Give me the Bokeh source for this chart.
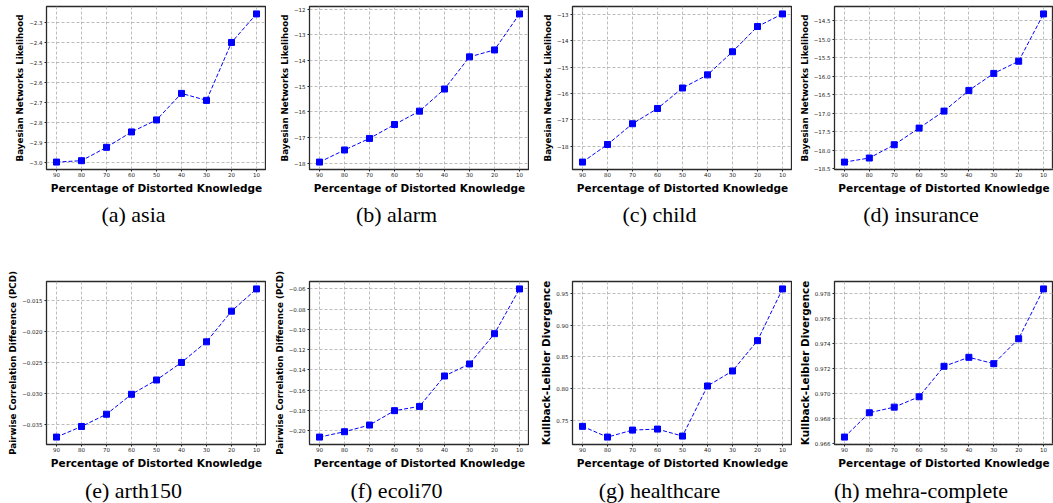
from bokeh.plotting import figure
from bokeh.layouts import row, column
from bokeh.models import Range1d, FixedTicker, CustomJSTickFormatter
from bokeh.core.properties import value
from bokeh.embed import file_html
from bokeh.resources import INLINE

# ---------------- data ----------------
pct_labels = ["90", "80", "70", "60", "50", "40", "30", "20", "10"]

asia = [-2.999, -2.992, -2.925, -2.848, -2.788, -2.655, -2.690, -2.400, -2.257]
alarm = [-17.95, -17.48, -17.03, -16.49, -15.97, -15.11, -13.86, -13.59, -12.19]
child = [-18.61, -17.94, -17.15, -16.57, -15.79, -15.29, -14.41, -13.45, -12.97]
insurance = [-18.32, -18.21, -17.85, -17.40, -16.94, -16.38, -15.92, -15.59, -14.31]
arth150 = [-0.03697, -0.03527, -0.03330, -0.03010, -0.02781, -0.02499, -0.02168, -0.01676, -0.01319]
ecoli70 = [-0.2063, -0.2010, -0.1944, -0.1802, -0.1760, -0.1460, -0.1341, -0.1042, -0.0600]
healthcare = [0.7400, 0.7230, 0.7341, 0.7357, 0.7246, 0.8040, 0.8278, 0.8759, 0.9579]
mehra = [0.96648, 0.96843, 0.96888, 0.96971, 0.97215, 0.97287, 0.97236, 0.97436, 0.97835]

asia_ticks = [-3.0, -2.9, -2.8, -2.7, -2.6, -2.5, -2.4, -2.3]
alarm_ticks = [-18, -17, -16, -15, -14, -13, -12]
child_ticks = [-18, -17, -16, -15, -14, -13]
insurance_ticks = [-18.5, -18.0, -17.5, -17.0, -16.5, -16.0, -15.5, -15.0, -14.5]
arth150_ticks = [-0.035, -0.030, -0.025, -0.020, -0.015]
ecoli70_ticks = [-0.20, -0.18, -0.16, -0.14, -0.12, -0.10, -0.08, -0.06]
healthcare_ticks = [0.75, 0.80, 0.85, 0.90, 0.95]
mehra_ticks = [0.966, 0.968, 0.970, 0.972, 0.974, 0.976, 0.978]

x_title = "Percentage of Distorted Knowledge"
bn_title = "Bayesian Networks Likelihood"
pcd_title = "Pairwise Correlation Difference (PCD)"
kl_title = "Kullback-Leibler Divergence"

captions = ["(a) asia", "(b) alarm", "(c) child", "(d) insurance",
            "(e) arth150", "(f) ecoli70", "(g) healthcare", "(h) mehra-complete"]

panels = [
    (asia, asia_ticks, 1, bn_title),
    (alarm, alarm_ticks, 0, bn_title),
    (child, child_ticks, 0, bn_title),
    (insurance, insurance_ticks, 1, bn_title),
    (arth150, arth150_ticks, 3, pcd_title),
    (ecoli70, ecoli70_ticks, 2, pcd_title),
    (healthcare, healthcare_ticks, 2, kl_title),
    (mehra, mehra_ticks, 3, kl_title),
]

# ---------------- layout ----------------
TOTAL_W = 1053
WIDTHS = [266, 263, 263, 261]
LEFTS = [46, 43, 43, 42]
TOPS = [6, 30]
FRAME_H = 163
PLOT_BOTTOM = 30
CAP_H = [52, 29]          # caption strip heights (rows total 251 / 252)
CAP_Y = [15, 16]          # caption centre, px from the top of the strip
CAP_SHIFT = -23           # caption centre relative to frame centre (px)

FONT = "DejaVu Sans"


def make_panel(k):
    vals, ticks, dec, ytitle = panels[k]
    r, c = divmod(k, 4)
    w, left = WIDTHS[c], LEFTS[c]
    top = TOPS[r]
    h = top + FRAME_H + PLOT_BOTTOM

    xs = list(range(len(pct_labels)))
    x0, x1 = -0.05 * (len(xs) - 1), (len(xs) - 1) * 1.05
    lo, hi = min(vals), max(vals)
    m = 0.05 * (hi - lo)
    y0, y1 = lo - m, hi + m

    p = figure(width=w, height=h, output_backend="svg", toolbar_location=None,
               x_range=Range1d(x0, x1), y_range=Range1d(y0, y1),
               min_border_left=left, min_border_right=0,
               min_border_top=top, min_border_bottom=PLOT_BOTTOM,
               title=None)
    p.background_fill_color = "white"
    p.border_fill_color = "white"
    p.outline_line_color = "#2a2a2a"
    p.outline_line_width = 1.3

    for g in (p.xgrid, p.ygrid):
        g.grid_line_color = "#b4b4b4"
        g.grid_line_dash = "3 2"
        g.grid_line_width = 0.9

    p.xaxis.ticker = FixedTicker(ticks=xs)
    p.xaxis.major_label_overrides = {i: s for i, s in zip(xs, pct_labels)}
    p.yaxis.ticker = FixedTicker(ticks=ticks)
    p.yaxis.formatter = CustomJSTickFormatter(
        code="return (tick < 0 ? '\\u2212' : '') + Math.abs(tick).toFixed(%d);" % dec)
    for ax in (p.xaxis, p.yaxis):
        ax.axis_line_color = None
        ax.major_tick_out = 2
        ax.major_tick_in = 0
        ax.minor_tick_line_color = None
        ax.major_tick_line_color = "#222222"
        ax.major_label_text_font = FONT
        ax.major_label_text_font_size = "5.5px"
        ax.major_label_text_color = "#222222"
        ax.axis_label_text_font = FONT
        ax.axis_label_text_font_style = "bold"
        ax.axis_label_text_color = "black"
    p.xaxis.major_label_standoff = 0
    p.yaxis.major_label_standoff = 2
    p.xaxis.axis_label = x_title
    p.xaxis.axis_label_text_font_size = "10.5px"
    p.xaxis.axis_label_standoff = 2
    p.yaxis.axis_label = ytitle
    p.yaxis.axis_label_text_font_size = "10.4px" if ytitle == kl_title else "8.7px"
    p.yaxis.axis_label_standoff = 1

    p.line(xs, vals, line_color="#0000ff", line_width=1, line_dash="4 2")
    p.scatter(xs, vals, marker="square", size=6, fill_color="#0000ff", line_color="#0000ff")
    return p


def caption_strip(r):
    """One full-width strip per row; its ranges are the strip's own pixels."""
    ch = CAP_H[r]
    cap = figure(width=TOTAL_W, height=ch, output_backend="svg", toolbar_location=None,
                 x_range=Range1d(0, TOTAL_W), y_range=Range1d(ch, 0),
                 min_border=0, title=None, x_axis_type=None, y_axis_type=None)
    cap.outline_line_color = None
    cap.background_fill_color = "white"
    cap.border_fill_color = "white"
    cap.grid.visible = False
    cxs, cys = [], []
    x_off = 0
    for c in range(4):
        w, left = WIDTHS[c], LEFTS[c]
        cxs.append(x_off + left + (w - left) / 2 + CAP_SHIFT)
        cys.append(CAP_Y[r])
        x_off += w
    cap.text(x=cxs, y=cys, text=captions[4 * r:4 * r + 4],
             text_font=value("Liberation Serif"), text_font_size="22px",
             text_align="center", text_baseline="middle", text_color="black")
    return cap


figs = [make_panel(k) for k in range(8)]
layout = column(row(*figs[:4], spacing=0), caption_strip(0),
                row(*figs[4:], spacing=0), caption_strip(1), spacing=0)

open("out.html", "w").write(file_html(layout, INLINE))
